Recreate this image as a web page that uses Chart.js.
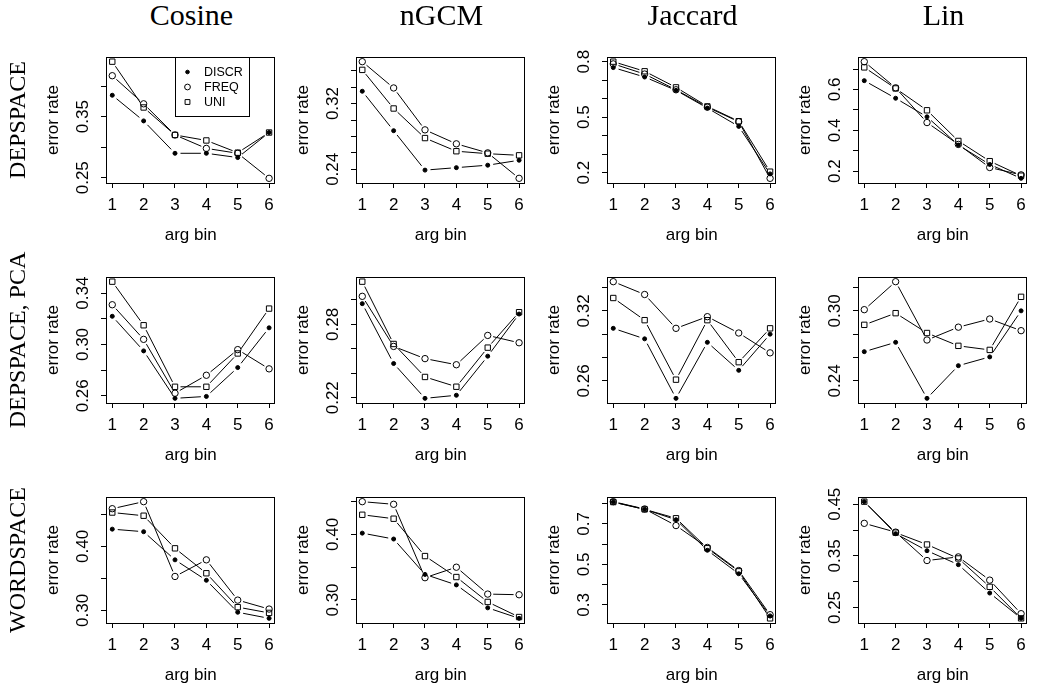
<!DOCTYPE html>
<html>
<head>
<meta charset="utf-8">
<script src="https://cdn.jsdelivr.net/npm/chart.js@4.4.1/dist/chart.umd.min.js"></script>
<style>
  body { margin: 0; background: #fff; width: 1037px; height: 687px; position: relative; overflow: hidden; }
  canvas { position: absolute; }
  .colTitle { position: absolute; top: 0; font-family: 'Liberation Serif', serif; font-size: 30px; line-height: 1; transform: translateX(-50%); white-space: nowrap; }
  .rowTitle { position: absolute; left: 17px; font-family: 'Liberation Serif', serif; font-size: 24px; line-height: 1; white-space: pre; transform: translate(-50%, -50%) rotate(-90deg); }
</style>
</head>
<body>
<script>
const bins = [1, 2, 3, 4, 5, 6];
const seriesNames = ['DISCR', 'FREQ', 'UNI'];
const measures = ['Cosine', 'nGCM', 'Jaccard', 'Lin'];
const spaces = ['DEPSPACE', 'DEPSPACE, PCA', 'WORDSPACE'];

// error rates per panel, rows = DISCR, FREQ, UNI
const depCosine = [
  [0.385, 0.343, 0.290, 0.290, 0.283, 0.324],
  [0.417, 0.371, 0.320, 0.298, 0.290, 0.249],
  [0.440, 0.365, 0.320, 0.311, 0.291, 0.324]
];
const depNgcm = [
  [0.335, 0.287, 0.239, 0.242, 0.245, 0.251],
  [0.371, 0.339, 0.288, 0.271, 0.260, 0.229],
  [0.361, 0.314, 0.278, 0.262, 0.259, 0.257]
];
const depJaccard = [
  [0.768, 0.717, 0.645, 0.549, 0.450, 0.193],
  [0.788, 0.733, 0.648, 0.554, 0.475, 0.169],
  [0.800, 0.748, 0.661, 0.558, 0.478, 0.205]
];
const depLin = [
  [0.643, 0.557, 0.466, 0.328, 0.233, 0.165],
  [0.736, 0.608, 0.438, 0.331, 0.218, 0.182],
  [0.708, 0.605, 0.498, 0.348, 0.249, 0.178]
];
const pcaCosine = [
  [0.322, 0.295, 0.258, 0.2595, 0.282, 0.313],
  [0.331, 0.304, 0.262, 0.276, 0.296, 0.281],
  [0.349, 0.315, 0.267, 0.267, 0.293, 0.328]
];
const pcaNgcm = [
  [0.297, 0.248, 0.2195, 0.222, 0.254, 0.2885],
  [0.303, 0.262, 0.252, 0.247, 0.271, 0.265],
  [0.315, 0.264, 0.237, 0.229, 0.261, 0.290]
];
const pcaJaccard = [
  [0.305, 0.296, 0.245, 0.293, 0.269, 0.300],
  [0.345, 0.334, 0.305, 0.315, 0.301, 0.284],
  [0.331, 0.312, 0.261, 0.312, 0.276, 0.305]
];
const pcaLin = [
  [0.265, 0.273, 0.225, 0.253, 0.2605, 0.300],
  [0.301, 0.325, 0.275, 0.286, 0.293, 0.283],
  [0.288, 0.298, 0.281, 0.270, 0.2665, 0.312]
];
const wordCosine = [
  [0.427, 0.423, 0.379, 0.347, 0.297, 0.2875],
  [0.459, 0.470, 0.353, 0.379, 0.316, 0.302],
  [0.453, 0.448, 0.397, 0.358, 0.305, 0.296]
];
const wordNgcm = [
  [0.402, 0.393, 0.339, 0.323, 0.288, 0.272],
  [0.450, 0.446, 0.334, 0.350, 0.309, 0.308],
  [0.430, 0.424, 0.367, 0.335, 0.297, 0.274]
];
const wordJaccard = [
  [0.808, 0.772, 0.721, 0.570, 0.454, 0.246],
  [0.810, 0.774, 0.692, 0.584, 0.470, 0.252],
  [0.808, 0.772, 0.728, 0.580, 0.466, 0.234]
];
const wordLin = [
  [0.455, 0.393, 0.360, 0.333, 0.278, 0.229],
  [0.413, 0.396, 0.341, 0.348, 0.303, 0.238],
  [0.455, 0.395, 0.372, 0.345, 0.290, 0.229]
];

// y tick marks and the ones R kept a label for
const depCosineTicks = [0.25, 0.30, 0.35, 0.40];
const depCosineLabels = ['0.25', '0.35'];
const depNgcmTicks = [0.24, 0.26, 0.28, 0.30, 0.32, 0.34, 0.36];
const depNgcmLabels = ['0.24', '0.32'];
const depJaccardTicks = [0.2, 0.3, 0.4, 0.5, 0.6, 0.7, 0.8];
const depJaccardLabels = ['0.2', '0.5', '0.8'];
const depLinTicks = [0.2, 0.3, 0.4, 0.5, 0.6, 0.7];
const depLinLabels = ['0.2', '0.4', '0.6'];
const pcaCosineTicks = [0.26, 0.28, 0.30, 0.32, 0.34];
const pcaCosineLabels = ['0.26', '0.30', '0.34'];
const pcaNgcmTicks = [0.22, 0.24, 0.26, 0.28, 0.30];
const pcaNgcmLabels = ['0.22', '0.28'];
const pcaJaccardTicks = [0.26, 0.28, 0.30, 0.32, 0.34];
const pcaJaccardLabels = ['0.26', '0.32'];
const pcaLinTicks = [0.24, 0.26, 0.28, 0.30, 0.32];
const pcaLinLabels = ['0.24', '0.30'];
const wordCosineTicks = [0.30, 0.35, 0.40, 0.45];
const wordCosineLabels = ['0.30', '0.40'];
const wordNgcmTicks = [0.30, 0.35, 0.40, 0.45];
const wordNgcmLabels = ['0.30', '0.40'];
const wordJaccardTicks = [0.3, 0.4, 0.5, 0.6, 0.7, 0.8];
const wordJaccardLabels = ['0.3', '0.5', '0.7'];
const wordLinTicks = [0.25, 0.30, 0.35, 0.40, 0.45];
const wordLinLabels = ['0.25', '0.35', '0.45'];

const panels = [
  [[depCosine, depCosineTicks, depCosineLabels], [depNgcm, depNgcmTicks, depNgcmLabels],
   [depJaccard, depJaccardTicks, depJaccardLabels], [depLin, depLinTicks, depLinLabels]],
  [[pcaCosine, pcaCosineTicks, pcaCosineLabels], [pcaNgcm, pcaNgcmTicks, pcaNgcmLabels],
   [pcaJaccard, pcaJaccardTicks, pcaJaccardLabels], [pcaLin, pcaLinTicks, pcaLinLabels]],
  [[wordCosine, wordCosineTicks, wordCosineLabels], [wordNgcm, wordNgcmTicks, wordNgcmLabels],
   [wordJaccard, wordJaccardTicks, wordJaccardLabels], [wordLin, wordLinTicks, wordLinLabels]]
];

const PLOT_W = 171, PLOT_H = 126;
const colLeft = [106, 356, 607, 858];
const rowTop = [57, 277, 497];
const M = { l: 80, r: 4, t: 24, b: 66 };
const GAP = 5.5; // R type="b" leaves a gap round each point
const FONT = 'Liberation Sans';

const symbols = [
  { pointStyle: 'circle', radius: 2, backgroundColor: '#000' },
  { pointStyle: 'circle', radius: 3.2, backgroundColor: 'rgba(0,0,0,0)' },
  { pointStyle: 'rect', radius: 3.8, backgroundColor: 'rgba(0,0,0,0)' }
];

Chart.defaults.font.family = FONT;
Chart.defaults.color = '#000';

// lines between points, stopped short of each symbol
const gapLines = {
  id: 'gapLines',
  beforeDatasetsDraw(chart) {
    const ctx = chart.ctx;
    ctx.save();
    ctx.strokeStyle = '#000';
    ctx.lineWidth = 1;
    chart.data.datasets.forEach((ds, i) => {
      const pts = chart.getDatasetMeta(i).data;
      for (let k = 1; k < pts.length; k++) {
        const a = pts[k - 1], b = pts[k];
        const dx = b.x - a.x, dy = b.y - a.y, len = Math.hypot(dx, dy);
        if (len <= 2 * GAP) continue;
        const ux = dx / len, uy = dy / len;
        ctx.beginPath();
        ctx.moveTo(a.x + ux * GAP, a.y + uy * GAP);
        ctx.lineTo(b.x - ux * GAP, b.y - uy * GAP);
        ctx.stroke();
      }
    });
    ctx.restore();
  }
};

// box round the plot, rotated y labels, legend for the first panel
const rFrame = {
  id: 'rFrame',
  afterDraw(chart, args, opts) {
    const { ctx, chartArea: ca } = chart;
    const ys = chart.scales.y, xs = chart.scales.x;
    ctx.save();
    ctx.strokeStyle = '#000';
    ctx.lineWidth = 1;
    ctx.strokeRect(Math.round(ca.left) + 0.5, Math.round(ca.top) + 0.5,
      Math.round(ca.right - ca.left) - 1, Math.round(ca.bottom - ca.top));

    ctx.fillStyle = '#000';
    ctx.font = '17px "' + FONT + '"';
    ctx.textAlign = 'center';
    ctx.textBaseline = 'middle';
    opts.labels.forEach(s => {
      ctx.save();
      ctx.translate(ca.left - 23, ys.getPixelForValue(Number(s)));
      ctx.rotate(-Math.PI / 2);
      ctx.fillText(s, 0, 0);
      ctx.restore();
    });

    if (opts.legend) {
      const lx = Math.round(xs.getPixelForValue(3)) + 0.5;
      const ly = Math.round(ca.top) + 0.5;
      ctx.strokeRect(lx, ly, 74, 59);
      ctx.font = '12.5px "' + FONT + '"';
      ctx.textAlign = 'left';
      seriesNames.forEach((name, i) => {
        const y = ly + 14.5 + i * 15;
        ctx.fillStyle = symbols[i].backgroundColor;
        ctx.strokeStyle = '#000';
        Chart.helpers.drawPoint(ctx, {
          pointStyle: symbols[i].pointStyle, radius: symbols[i].radius * 0.9,
          borderWidth: 1, rotation: 0
        }, lx + 12, y);
        ctx.fillStyle = '#000';
        ctx.fillText(name, lx + 28.5, y + 0.5);
      });
    }
    ctx.restore();
  }
};

function yRange(series) {
  const all = series.flat();
  const lo = Math.min(...all), hi = Math.max(...all);
  const pad = (hi - lo) * 0.04;
  return [lo - pad, hi + pad];
}

panels.forEach((row, r) => {
  row.forEach(([series, ticks, labels], c) => {
    const canvas = document.createElement('canvas');
    const w = M.l + PLOT_W + M.r, h = M.t + PLOT_H + M.b;
    canvas.width = w;
    canvas.height = h;
    canvas.style.left = (colLeft[c] - M.l) + 'px';
    canvas.style.top = (rowTop[r] - M.t) + 'px';
    document.body.appendChild(canvas);
    const [ymin, ymax] = yRange(series);
    const axisGrid = { drawOnChartArea: false, drawTicks: true, tickLength: 5, color: '#000', tickColor: '#000', lineWidth: 1 };

    new Chart(canvas, {
      type: 'line',
      data: {
        datasets: series.map((vals, i) => ({
          label: seriesNames[i],
          data: bins.map((b, k) => ({ x: b, y: vals[k] })),
          showLine: false,
          pointStyle: symbols[i].pointStyle,
          pointRadius: symbols[i].radius,
          pointBackgroundColor: symbols[i].backgroundColor,
          pointBorderColor: '#000',
          pointBorderWidth: 1
        }))
      },
      options: {
        responsive: false,
        animation: false,
        events: [],
        layout: { padding: { left: 0, right: M.r, top: M.t, bottom: 0 } },
        plugins: {
          legend: { display: false },
          tooltip: { enabled: false },
          rFrame: { labels: labels, legend: r === 0 && c === 0 }
        },
        scales: {
          x: {
            type: 'linear', min: 0.8, max: 6.2,
            afterBuildTicks: s => { s.ticks = bins.map(v => ({ value: v })); },
            afterFit: s => { s.height = M.b; },
            grid: axisGrid,
            border: { display: false },
            ticks: { color: '#000', font: { size: 17 }, padding: 7, maxRotation: 0, autoSkip: false },
            title: { display: true, text: 'arg bin', color: '#000', font: { size: 17 }, padding: { top: 0, bottom: 3.8 } }
          },
          y: {
            type: 'linear', min: ymin, max: ymax,
            afterBuildTicks: s => { s.ticks = ticks.map(v => ({ value: v })); },
            afterFit: s => { s.width = M.l; },
            grid: axisGrid,
            border: { display: false },
            ticks: { display: false },
            title: { display: true, text: 'error rate', color: '#000', font: { size: 17 }, padding: { top: 16.8, bottom: 0 } }
          }
        }
      },
      plugins: [gapLines, rFrame]
    });
  });
});

measures.forEach((m, c) => {
  const d = document.createElement('div');
  d.className = 'colTitle';
  d.textContent = m;
  d.style.left = (colLeft[c] + PLOT_W / 2) + 'px';
  document.body.appendChild(d);
});
spaces.forEach((s, r) => {
  const d = document.createElement('div');
  d.className = 'rowTitle';
  d.textContent = s;
  d.style.top = (rowTop[r] + PLOT_H / 2) + 'px';
  document.body.appendChild(d);
});
</script>
</body>
</html>
